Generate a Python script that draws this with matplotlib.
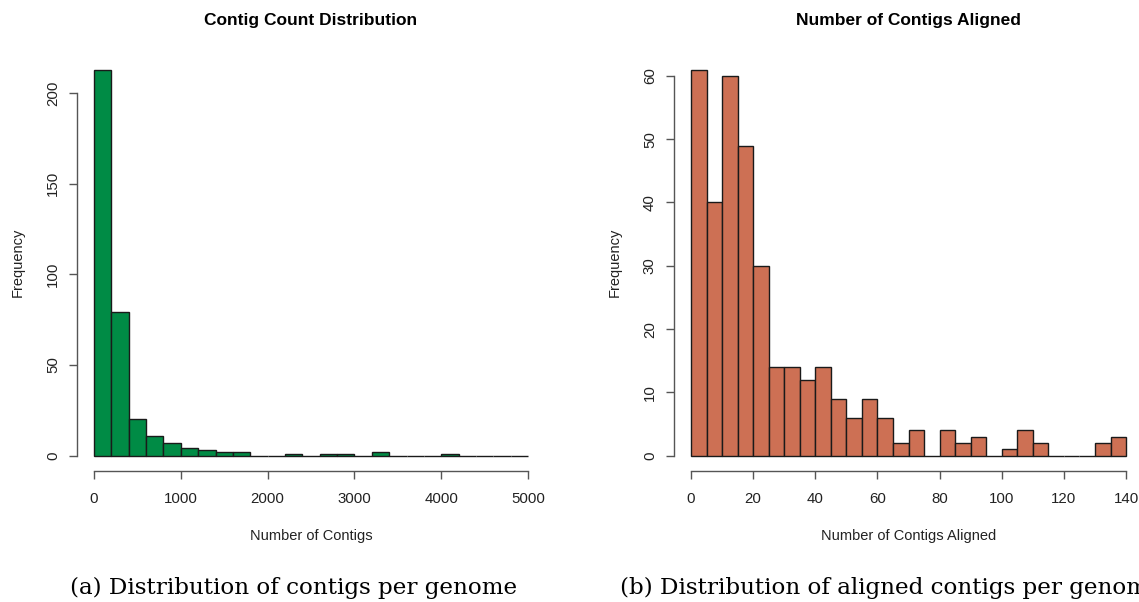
import numpy as np
import matplotlib
matplotlib.use('Agg')
import matplotlib.pyplot as plt

plt.rcParams['font.family'] = ['Liberation Sans', 'DejaVu Sans']

# Contig count histogram (bins of 200)
contig_breaks = np.arange(0, 5001, 200)
contig_counts = [213, 79, 20, 11, 7, 4, 3, 2, 2, 0, 0, 1, 0,
                 1, 1, 0, 2, 0, 0, 0, 1, 0, 0, 0, 0]

# Aligned contig histogram (bins of 5)
aligned_breaks = np.arange(0, 141, 5)
aligned_counts = [61, 40, 60, 49, 30, 14, 14, 12, 14, 9, 6, 9, 6, 2,
                  4, 0, 4, 2, 3, 0, 1, 4, 2, 0, 0, 0, 2, 3]

left_xticks = [0, 1000, 2000, 3000, 4000, 5000]
left_yticks = [0, 50, 100, 150, 200]
right_xticks = [0, 20, 40, 60, 80, 100, 120, 140]
right_yticks = [0, 10, 20, 30, 40, 50, 60]

green = '#008B45'
salmon = '#CD7054'
axis_col = '#555555'

fig = plt.figure(figsize=(11.39, 6.02), dpi=100)


def r_hist(ax, breaks, counts, color, xticks, yticks, title, xlabel):
    widths = np.diff(breaks)
    ax.bar(breaks[:-1], counts, width=widths, align='edge', color=color,
           edgecolor='#1a1a1a', linewidth=1.0)
    span_x = breaks[-1] - breaks[0]
    ax.set_xlim(breaks[0] - 0.04 * span_x, breaks[-1] + 0.04 * span_x)
    top = max(counts)
    ax.set_ylim(-0.04 * top, top * 1.04)
    for s in ['top', 'right']:
        ax.spines[s].set_visible(False)
    for s in ['left', 'bottom']:
        ax.spines[s].set_color(axis_col)
        ax.spines[s].set_linewidth(1.0)
    ax.spines['bottom'].set_bounds(xticks[0], xticks[-1])
    ax.spines['left'].set_bounds(yticks[0], yticks[-1])
    ax.set_xticks(xticks)
    ax.set_yticks(yticks)
    ax.set_yticklabels([str(t) for t in yticks], rotation=90, va='center')
    ax.tick_params(axis='both', direction='out', length=5.5, width=1.0,
                   color=axis_col, labelsize=10.8, labelcolor='#222222')
    ax.tick_params(axis='x', pad=9.5)
    ax.tick_params(axis='y', pad=6.5)
    ax.set_title(title, fontsize=12.5, fontweight='bold', pad=21)
    ax.set_xlabel(xlabel, fontsize=10.5, labelpad=16.5, color='#222222')
    ax.set_ylabel('Frequency', fontsize=10.5, labelpad=15.5, color='#222222')


ax1 = fig.add_axes([0.0673, 0.2174, 0.4116, 0.6927])
r_hist(ax1, contig_breaks, contig_counts, green, left_xticks, left_yticks,
       'Contig Count Distribution', 'Number of Contigs')

ax2 = fig.add_axes([0.5914, 0.2174, 0.4125, 0.6927])
r_hist(ax2, aligned_breaks, aligned_counts, salmon, right_xticks, right_yticks,
       'Number of Contigs Aligned', 'Number of Contigs Aligned')

# Captions below the panels
fig.text(70 / 1139, 1 - 588 / 602, '(a) Distribution of contigs per genome',
         family='DejaVu Serif', fontsize=16.6, va='center', ha='left')
fig.text(620 / 1139, 1 - 588 / 602, '(b) Distribution of aligned contigs per genome',
         family='DejaVu Serif', fontsize=16.6, va='center', ha='left')

fig.savefig('out.png', dpi=100)
